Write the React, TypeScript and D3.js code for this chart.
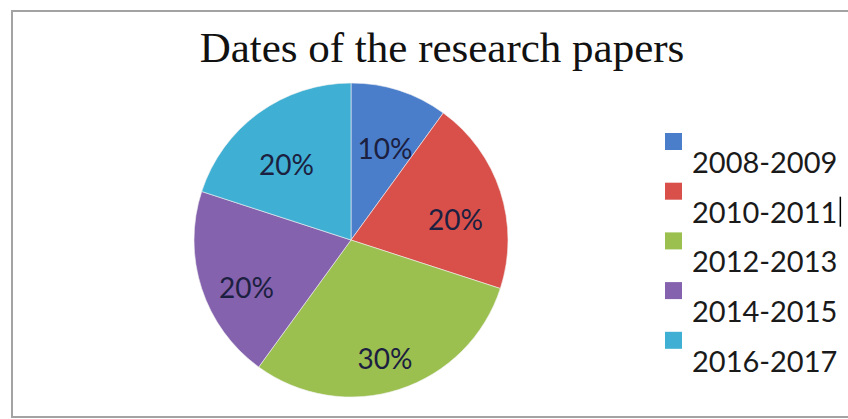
import React, { useEffect, useRef } from "react";
import * as d3 from "d3";

// Share of research papers by publication period
const periods = ["2008-2009", "2010-2011", "2012-2013", "2014-2015", "2016-2017"];
const shares = [10, 20, 30, 20, 20];
const sliceColors = ["#4a7ecb", "#d9504a", "#9bc04f", "#8562ae", "#3fb0d3"];
const titleText = "Dates of the research papers";

const W = 848;
const H = 419;

export default function App() {
  const ref = useRef<SVGSVGElement | null>(null);

  useEffect(() => {
    const svg = d3.select(ref.current);
    svg.selectAll("*").remove();

    // chart frame
    svg
      .append("rect")
      .attr("x", 12)
      .attr("y", 11)
      .attr("width", W + 20)
      .attr("height", 406)
      .attr("fill", "#ffffff")
      .attr("stroke", "#a3a3a3")
      .attr("stroke-width", 2);

    svg
      .append("text")
      .attr("x", 442)
      .attr("y", 62)
      .attr("text-anchor", "middle")
      .attr("font-family", "'Liberation Serif', 'Times New Roman', serif")
      .attr("font-size", 43)
      .attr("fill", "#111")
      .text(titleText);

    const cx = 351;
    const cy = 240;
    const radius = 157;

    const data = periods.map((p, i) => ({ period: p, value: shares[i], color: sliceColors[i] }));
    const pie = d3
      .pie<{ period: string; value: number; color: string }>()
      .value((d) => d.value)
      .sort(null);
    const arcs = pie(data);

    const arc = d3.arc<d3.PieArcDatum<any>>().innerRadius(0).outerRadius(radius);
    const labelArc = d3
      .arc<d3.PieArcDatum<any>>()
      .innerRadius(radius * 0.7)
      .outerRadius(radius * 0.7);

    const g = svg.append("g").attr("transform", `translate(${cx},${cy})`);
    g.selectAll("path.slice")
      .data(arcs)
      .enter()
      .append("path")
      .attr("class", "slice")
      .attr("d", (d) => arc(d) as string)
      .attr("fill", (d) => d.data.color)
      .attr("stroke", "#f2f2f2")
      .attr("stroke-width", 0.6);

    g.selectAll("text.pct")
      .data(arcs)
      .enter()
      .append("text")
      .attr("class", "pct")
      .attr("x", (d) => labelArc.centroid(d)[0])
      .attr("y", (d) => labelArc.centroid(d)[1] + 13)
      .attr("text-anchor", "middle")
      .attr("dominant-baseline", "central")
      .attr("font-family", "Lato, 'Open Sans', sans-serif")
      .attr("font-size", 28)
      .attr("fill", "#1c2040")
      .text((d) => `${d.data.value}%`);

    // legend
    const legend = svg.append("g").attr("transform", "translate(665,133)");
    const rowStep = 49.7;
    const rows = legend
      .selectAll("g.row")
      .data(data)
      .enter()
      .append("g")
      .attr("class", "row")
      .attr("transform", (_d, i) => `translate(0,${i * rowStep})`);
    rows
      .append("rect")
      .attr("width", 17)
      .attr("height", 17)
      .attr("fill", (d) => d.color);
    const labels = rows
      .append("text")
      .attr("x", 27)
      .attr("y", 40)
      .attr("font-family", "Lato, 'Open Sans', sans-serif")
      .attr("font-size", 29)
      .attr("fill", "#1a1a1a")
      .text((d) => d.period);

    // text caret left after the second legend entry
    const second = labels.nodes()[1] as SVGTextElement | undefined;
    if (second) {
      const len = second.getComputedTextLength();
      legend
        .append("line")
        .attr("x1", 27 + len + 3)
        .attr("x2", 27 + len + 3)
        .attr("y1", rowStep + 14)
        .attr("y2", rowStep + 44)
        .attr("stroke", "#000")
        .attr("stroke-width", 1.5);
    }
  }, []);

  return (
    <svg
      ref={ref}
      width={W}
      height={H}
      style={{ position: "absolute", left: 0, top: 0, display: "block", background: "#fff" }}
    />
  );
}
